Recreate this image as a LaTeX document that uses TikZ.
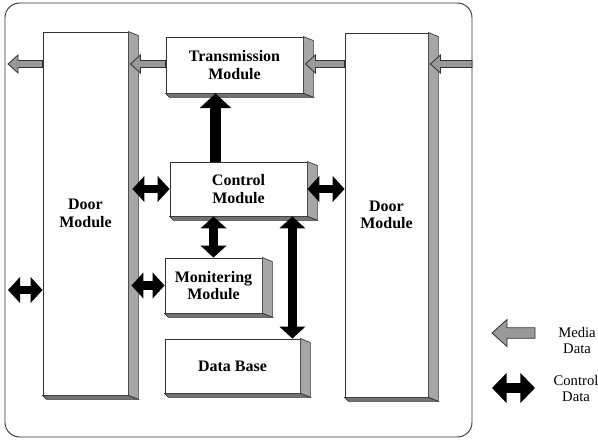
\documentclass[tikz,border=0pt]{standalone}
\usepackage{fontspec}
\setmainfont{Liberation Serif}
\usetikzlibrary{calc,arrows.meta}

% gray side and bottom of a module box
\newcommand{\boxside}[1]{%
  \filldraw[sideface] (#1.north east) -- ++(10,4) -- ($(#1.south east)+(10,4)$) -- (#1.south east) -- cycle;
  \filldraw[bottomface] (#1.south west) -- (#1.south east) -- ($(#1.south east)+(10,4)$) -- ($(#1.south west)+(4,4)$) -- cycle;}
% gray media arrow, pointing left from #2 to #3
\newcommand{\mediaarrow}[3][1]{%
  \filldraw[media] (#3) -- ($(#3)+(10*#1,-9*#1)$) -- ($(#3)+(10*#1,-3.5*#1)$) -- ($(#2)+(0,-3.5*#1)$)
    -- ($(#2)+(0,3.5*#1)$) -- ($(#3)+(10*#1,3.5*#1)$) -- ($(#3)+(10*#1,9*#1)$) -- cycle;}

\begin{document}
\begin{tikzpicture}[x=0.75pt,y=-0.75pt]
		% Define node styles
		\tikzstyle{module} = [rectangle, draw=black!80, fill=white, line width=0.6pt, inner sep=0pt, align=center, font=\fontsize{12}{13}\selectfont\bfseries];
		\tikzstyle{sideface} = [draw=black!80, fill=black!35, line width=0.5pt];
		\tikzstyle{bottomface} = [draw=black!80, fill=black!55, line width=0.5pt];
		\tikzstyle{media} = [draw=black!80, fill=black!40, line width=0.6pt];
		\tikzstyle{ctrl} = [line width=6.5pt, {Triangle[length=9pt,width=19pt]}-{Triangle[length=9pt,width=19pt]}];
		\tikzstyle{legend} = [align=center, font=\fontsize{11}{12}\selectfont];
		
		\useasboundingbox (0,0) rectangle (598,441);
		
		% Outer frame
		\draw[black!80, line width=0.7pt, rounded corners=11pt] (5,3) rectangle (472,437);
		
		% Door modules
		\node[module, minimum width=85*0.75pt, minimum height=363*0.75pt] (doorL) at (85.5,213.5) {Door\\Module};
		\node[module, minimum width=83*0.75pt, minimum height=364*0.75pt] (doorR) at (386.5,215) {Door\\Module};
		
		% Inner modules
		\node[module, minimum width=137*0.75pt, minimum height=56*0.75pt] (trans) at (234.5,65) {Transmission\\Module};
		\node[module, minimum width=137*0.75pt, minimum height=54*0.75pt] (ctl) at (238.5,189) {Control\\Module};
		\node[module, minimum width=97*0.75pt, minimum height=55*0.75pt] (mon) at (213.5,285.5) {Monitering\\Module};
		\node[module, minimum width=135*0.75pt, minimum height=54*0.75pt] (db) at (232.5,366) {Data Base};
		
		\boxside{doorL}
		\boxside{doorR}
		\boxside{trans}
		\boxside{ctl}
		\boxside{mon}
		\boxside{db}
		
		% Media data
		\coordinate (outL) at (8,64);
		\coordinate (outR) at (472,64);
		\mediaarrow{doorL.west |- outL}{outL}
		\mediaarrow{trans.west |- outL}{$(doorL.east |- outL)+(2,0)$}
		\mediaarrow{doorR.west |- outR}{$(trans.east |- outR)+(2,0)$}
		\mediaarrow{outR}{$(doorR.east |- outR)+(2,0)$}
		
		% Control data
		\coordinate (ctlL) at (8,290);
		\draw[ctrl] (ctlL -| doorL.west) -- (ctlL);
		\draw[ctrl] (ctl.west) -- ($(ctl.west -| doorL.east)+(4,0)$);
		\draw[ctrl] (mon.west) -- ($(mon.west -| doorL.east)+(3,0)$);
		\draw[ctrl] (ctl.east) -- (ctl.east -| doorR.west);
		\draw[ctrl] (mon.north |- ctl.south) -- (mon.north);
		\coordinate (dbTop) at ($(db.north east)+(-8,0)$);
		\draw[ctrl] (dbTop |- ctl.south) -- (dbTop);
		\coordinate (upBot) at ($(ctl.north)+(-23,0)$);
		\draw[line width=8pt, -{Triangle[length=11pt,width=23pt]}] (upBot) -- (upBot |- trans.south);
		
		% Legend
		\coordinate (medTail) at (535,333);
		\coordinate (medTip) at (492,333);
		\mediaarrow[1.5]{medTail}{medTip}
		\node[legend] (medText) at (577,340) {Media\\Data};
		\coordinate (ctlA) at (492,388);
		\coordinate (ctlB) at (535,388);
		\draw[line width=7.5pt, {Triangle[length=11pt,width=22pt]}-{Triangle[length=11pt,width=22pt]}] (ctlA) -- (ctlB);
		\node[legend] (ctlText) at (576,388) {Control\\Data};
	\end{tikzpicture}
\end{document}
